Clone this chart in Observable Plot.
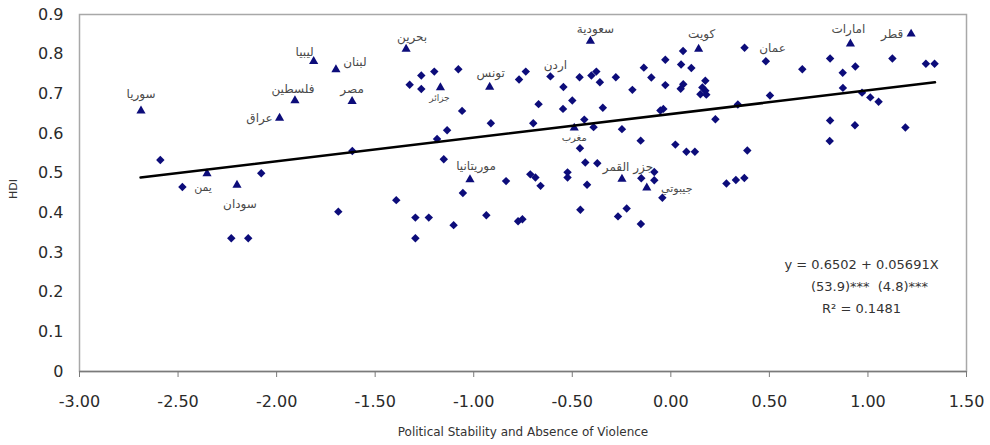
<!DOCTYPE html>
<html><head><meta charset="utf-8">
<script src="https://cdn.jsdelivr.net/npm/d3@7"></script>
<script src="https://cdn.jsdelivr.net/npm/@observablehq/plot@0.6"></script>
<style>body{margin:0;background:#fff;} svg{display:block}</style>
</head><body><div id="chart"></div>
<script>
// ---- data ----
const xTicks = [-3, -2.5, -2, -1.5, -1, -0.5, 0, 0.5, 1, 1.5];
const yTicks = [0, 0.1, 0.2, 0.3, 0.4, 0.5, 0.6, 0.7, 0.8, 0.9];
const xTitle = "Political Stability and Absence of Violence";
const yTitle = "HDI";

// other countries (diamonds)
const dotX = [-2.590,-2.478,-2.078,-2.230,-2.144,-1.687,-1.616,-1.393,-1.296,-1.228,-1.296,
  -1.266,-1.200,-1.078,-1.325,-1.266,-1.059,-1.135,-1.186,-1.152,-1.055,-1.102,-0.936,-0.836,-0.913,-0.770,-0.736,-0.698,-0.671,-0.713,-0.687,-0.661,-0.775,-0.753,
  -0.611,-0.545,-0.500,-0.547,-0.463,-0.403,-0.378,-0.360,-0.439,-0.392,-0.345,-0.279,-0.195,-0.137,-0.099,-0.248,-0.153,-0.461,-0.434,-0.373,-0.524,-0.524,-0.425,-0.459,-0.224,-0.268,-0.152,-0.150,-0.084,-0.084,-0.043,
  0.023,0.079,0.122,0.388,0.282,0.330,0.373,-0.028,0.062,0.052,0.104,-0.028,0.063,0.050,0.175,0.160,0.150,0.180,0.175,-0.053,-0.038,0.226,0.340,0.374,0.482,0.503,0.667,0.808,0.872,0.936,0.873,0.970,1.012,1.054,0.808,0.934,1.190,0.806,1.124,1.294,1.338];
const dotY = [0.533,0.465,0.500,0.336,0.336,0.403,0.556,0.432,0.388,0.388,0.336,
  0.746,0.756,0.762,0.723,0.712,0.657,0.608,0.586,0.535,0.450,0.369,0.394,0.480,0.626,0.736,0.756,0.626,0.674,0.497,0.489,0.468,0.379,0.384,
  0.744,0.717,0.683,0.662,0.742,0.746,0.756,0.729,0.635,0.616,0.665,0.742,0.710,0.766,0.741,0.611,0.582,0.563,0.527,0.525,0.502,0.489,0.471,0.408,0.411,0.391,0.372,0.487,0.503,0.482,0.438,
  0.572,0.554,0.554,0.557,0.474,0.483,0.488,0.786,0.808,0.774,0.765,0.722,0.724,0.713,0.733,0.716,0.699,0.698,0.708,0.658,0.662,0.636,0.673,0.816,0.782,0.696,0.762,0.789,0.753,0.769,0.715,0.703,0.691,0.680,0.633,0.621,0.615,0.581,0.789,0.776,0.776];

// Arab countries (triangles)
const arabNames = ["سوريا","يمن","سودان","عراق","فلسطين","ليبيا","لبنان","مصر","بحرين","جزائر","تونس","سعودية","مغرب","موريتانيا","جزر القمر","جيبوتي","كويت","امارات","قطر"];
const arabX = [-2.688,-2.353,-2.201,-1.985,-1.907,-1.812,-1.699,-1.617,-1.343,-1.169,-0.919,-0.408,-0.490,-1.019,-0.248,-0.122,0.141,0.911,1.219];
const arabY = [0.657,0.499,0.470,0.639,0.683,0.782,0.761,0.681,0.813,0.716,0.717,0.833,0.614,0.484,0.485,0.463,0.813,0.826,0.851];

// labelled countries drawn as diamonds
const extraNames = ["اردن","عمان"];
const extraX = [-0.611, 0.374];
const extraY = [0.744, 0.816];

// fitted line as drawn, and its annotation
const trendX = [-2.69, 1.34];
const trendY = [0.489, 0.729];
const eqLines = ["y = 0.6502 + 0.05691X", "(53.9)***  (4.8)***", "R² = 0.1481"];

// ---- layout (label offsets in px, font sizes) ----
const labelLayout = {
  "سوريا":[0,-17,12], "يمن":[-4,14,11], "سودان":[3,19,12], "عراق":[-20,0,12], "فلسطين":[-2,-11,12],
  "ليبيا":[-9,-9,12], "لبنان":[19,-7,12], "مصر":[0,-12,12], "بحرين":[6,-12,12], "جزائر":[-1,11,9],
  "تونس":[1,-14,12], "سعودية":[5,-12,12], "مغرب":[0,10,10], "موريتانيا":[6,-13,12], "جزر القمر":[6,-12,12],
  "جيبوتي":[30,1,11], "كويت":[3,-15,12], "امارات":[-2,-15,12], "قطر":[-19,0,12], "اردن":[5,-11,12], "عمان":[28,0,12]
};
const eqLayout = [[-105,250],[-97,272],[-105,294]];

const navy = "#0c0c7a";
const dots = dotX.map((x, i) => ({x, y: dotY[i]}));
const arab = arabX.map((x, i) => ({x, y: arabY[i], name: arabNames[i]}));
const extra = extraX.map((x, i) => ({x, y: extraY[i], name: extraNames[i]}));
const trend = trendX.map((x, i) => ({x, y: trendY[i]}));
const labelled = arab.concat(extra);

const labelMarks = labelled.map(d => {
  const [dx, dy, fs] = labelLayout[d.name];
  return Plot.text([d], {x: "x", y: "y", text: "name", dx, dy, fontSize: fs,
    fontFamily: "DejaVu Sans, sans-serif", fill: "#4a4a4a", textAnchor: "middle", lineAnchor: "middle"});
});
const eqMarks = eqLines.map((t, i) => Plot.text([t], {frameAnchor: "top-right", dx: eqLayout[i][0], dy: eqLayout[i][1],
  textAnchor: "middle", lineAnchor: "middle", fontSize: 13, fill: "#333"}));

const chart = Plot.plot({
  width: 990, height: 445,
  marginLeft: 79, marginRight: 24, marginTop: 14, marginBottom: 74,
  style: {fontFamily: "DejaVu Sans, sans-serif", fontSize: "16px", color: "#2a2a2a", background: "#fff"},
  x: {domain: [-3, 1.5]},
  y: {domain: [0, 0.9]},
  marks: [
    Plot.frame({stroke: "#a8a8a8", strokeWidth: 1.5}),
    Plot.ruleY([0], {stroke: "#7a7a7a", strokeWidth: 1.5}),
    Plot.axisX({ticks: xTicks, tickFormat: d => d.toFixed(2), tickSize: 6, tickPadding: 18, label: null, stroke: "#7a7a7a", fill: "#2a2a2a", fontSize: 16}),
    Plot.axisY({ticks: yTicks, tickFormat: d => d === 0 ? "0" : d.toFixed(1), tickSize: 0, tickPadding: 16, label: null, fill: "#2a2a2a", fontSize: 16}),
    Plot.text([yTitle], {frameAnchor: "left", dx: -66, dy: -4, rotate: -90, textAnchor: "middle", lineAnchor: "middle", fontSize: 11, fill: "#333"}),
    Plot.text([xTitle], {frameAnchor: "bottom", dy: 61, textAnchor: "middle", lineAnchor: "middle", fontSize: 12, fill: "#333"}),
    Plot.dot(dots, {x: "x", y: "y", symbol: "diamond2", r: 3.8, fill: navy, stroke: "none"}),
    Plot.dot(arab, {x: "x", y: "y", symbol: "triangle", r: 3.4, fill: navy, stroke: "none"}),
    Plot.line(trend, {x: "x", y: "y", stroke: "#000", strokeWidth: 2.6}),
    ...labelMarks,
    ...eqMarks
  ]
});
document.getElementById("chart").append(chart);
</script>
</body></html>
